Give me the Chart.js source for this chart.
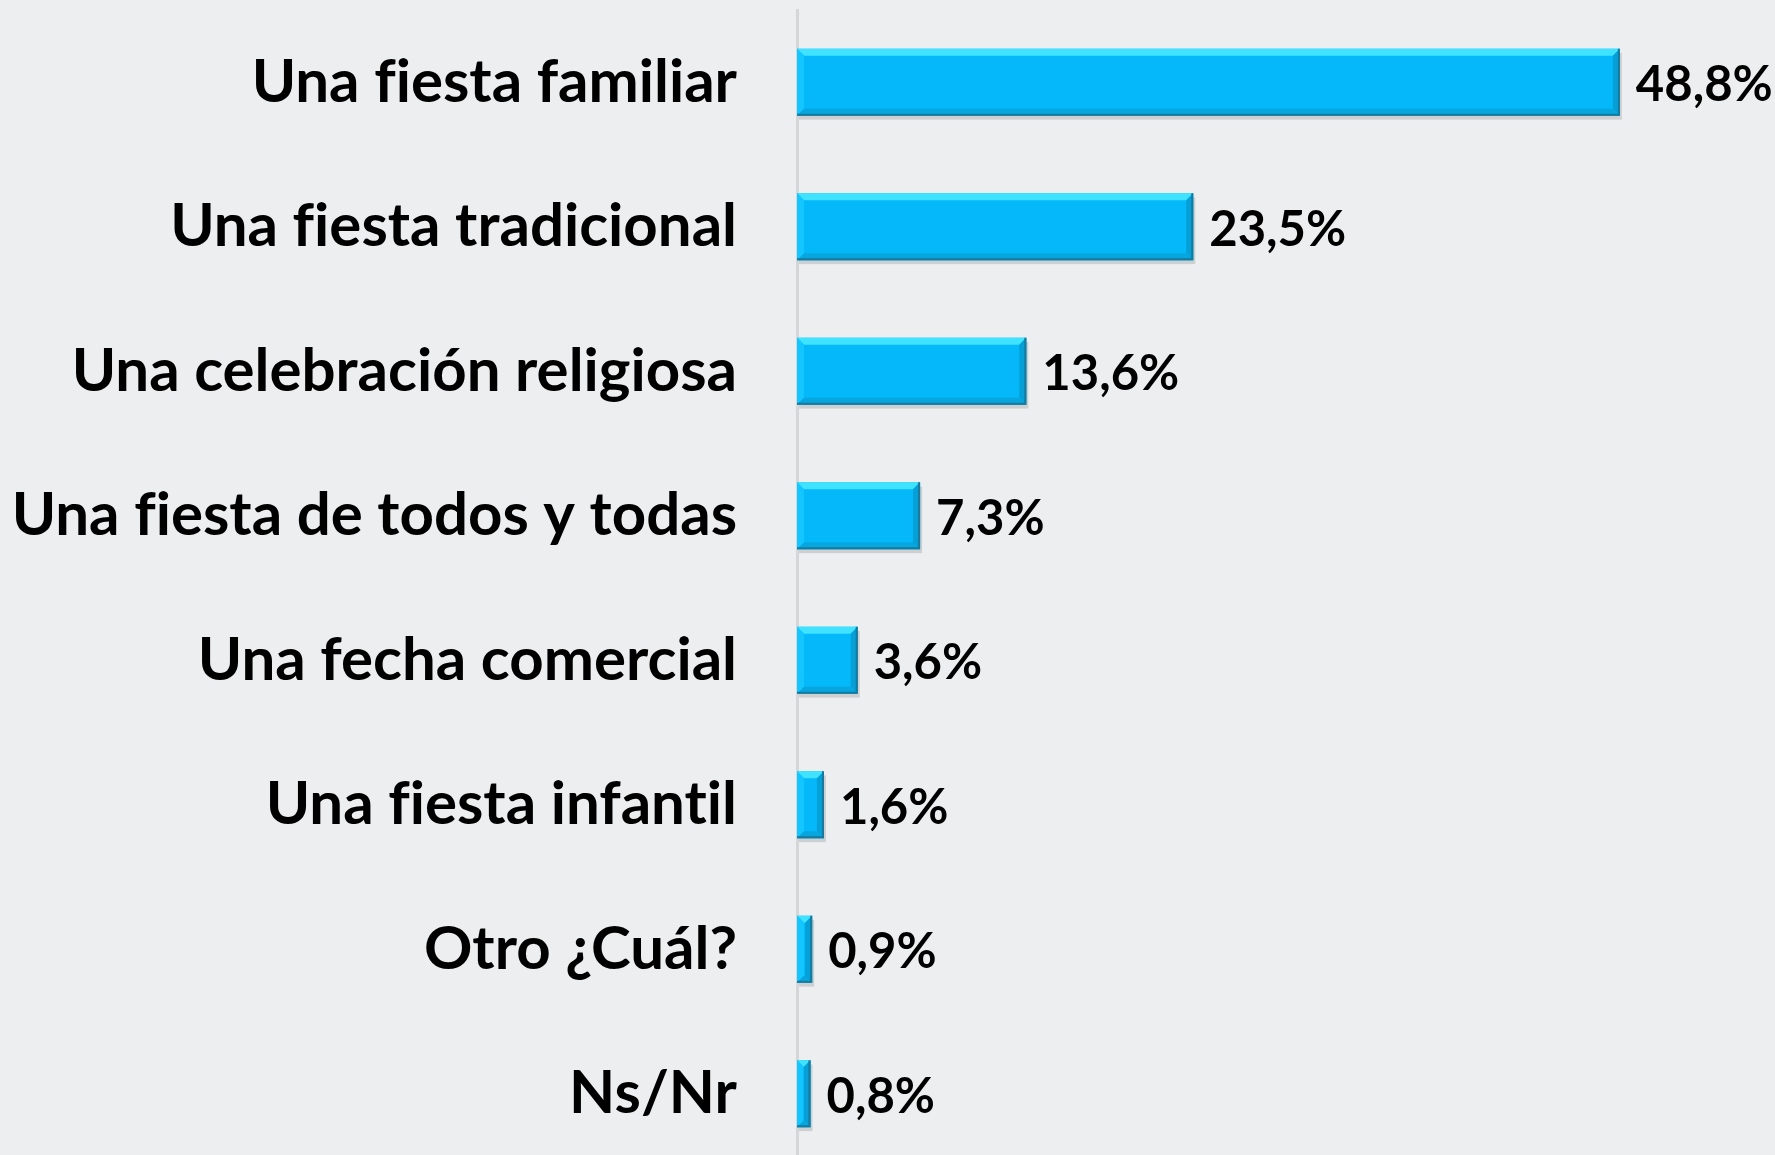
<!DOCTYPE html>
<html>
<head>
<meta charset="utf-8">
<script src="https://cdn.jsdelivr.net/npm/chart.js@4/dist/chart.umd.min.js"></script>
<style>
  html, body { margin: 0; padding: 0; background: #edeef0; overflow: hidden; }
  #wrap { width: 1775px; height: 1166px; position: relative; }
</style>
</head>
<body>
<div id="wrap"><canvas id="chart"></canvas></div>
<script>
const categories = [
  'Una fiesta familiar',
  'Una fiesta tradicional',
  'Una celebración religiosa',
  'Una fiesta de todos y todas',
  'Una fecha comercial',
  'Una fiesta infantil',
  'Otro ¿Cuál?',
  'Ns/Nr'
];
const values = [48.8, 23.5, 13.6, 7.3, 3.6, 1.6, 0.9, 0.8];

const labelFont = 'Lato, "Open Sans", sans-serif';

// no fi / ti ligatures, the original font does not join them
const noLigatures = {
  id: 'noLigatures',
  beforeDraw(chart) {
    chart.ctx.textRendering = 'optimizeSpeed';
  }
};

// draws a soft shadow + bevel on each bar, like the office-style 3D bars
const bevelBars = {
  id: 'bevelBars',
  beforeDatasetsDraw(chart) {
    const ctx = chart.ctx;
    const meta = chart.getDatasetMeta(0);
    ctx.save();
    meta.data.forEach((bar) => {
      const left = Math.min(bar.base, bar.x);
      const w = Math.abs(bar.x - bar.base);
      const top = bar.y - bar.height / 2;
      ctx.fillStyle = 'rgba(0,0,0,0.13)';
      ctx.fillRect(left + 2, top + 4, w, bar.height);
    });
    ctx.restore();
  },
  afterDatasetsDraw(chart) {
    const ctx = chart.ctx;
    const meta = chart.getDatasetMeta(0);
    ctx.save();
    meta.data.forEach((bar) => {
      const left = Math.min(bar.base, bar.x);
      const right = Math.max(bar.base, bar.x);
      const top = bar.y - bar.height / 2;
      const bottom = bar.y + bar.height / 2;
      const b = Math.min(7, (right - left) / 2);
      // top highlight
      ctx.fillStyle = '#3fe3ff';
      ctx.beginPath();
      ctx.moveTo(left, top); ctx.lineTo(right, top);
      ctx.lineTo(right - b, top + b); ctx.lineTo(left + b, top + b);
      ctx.closePath(); ctx.fill();
      // left face
      ctx.fillStyle = '#14c6ff';
      ctx.beginPath();
      ctx.moveTo(left, top); ctx.lineTo(left + b, top + b);
      ctx.lineTo(left + b, bottom - b); ctx.lineTo(left, bottom);
      ctx.closePath(); ctx.fill();
      // right face
      ctx.fillStyle = '#069fd6';
      ctx.beginPath();
      ctx.moveTo(right, top); ctx.lineTo(right - b, top + b);
      ctx.lineTo(right - b, bottom - b); ctx.lineTo(right, bottom);
      ctx.closePath(); ctx.fill();
      // bottom face
      ctx.fillStyle = '#07a6de';
      ctx.beginPath();
      ctx.moveTo(left, bottom); ctx.lineTo(left + b, bottom - b);
      ctx.lineTo(right - b, bottom - b); ctx.lineTo(right, bottom);
      ctx.closePath(); ctx.fill();
      // dark outline at bottom/right
      ctx.strokeStyle = '#17799c';
      ctx.lineWidth = 2;
      ctx.beginPath();
      ctx.moveTo(left, bottom - 1); ctx.lineTo(right - 1, bottom - 1); ctx.lineTo(right - 1, top);
      ctx.stroke();
    });
    ctx.restore();
  }
};

// value labels to the right of the bars
const valueLabels = {
  id: 'valueLabels',
  afterDatasetsDraw(chart) {
    const ctx = chart.ctx;
    const meta = chart.getDatasetMeta(0);
    ctx.save();
    ctx.font = 'bold 49px ' + labelFont;
    ctx.fillStyle = '#000';
    ctx.textAlign = 'left';
    ctx.textBaseline = 'middle';
    meta.data.forEach((bar, i) => {
      const txt = values[i].toFixed(1).replace('.', ',') + '%';
      ctx.fillText(txt, bar.x + 16, bar.y + 3);
    });
    ctx.restore();
  }
};

new Chart(document.getElementById('chart'), {
  type: 'bar',
  data: {
    labels: categories,
    datasets: [{
      data: values,
      backgroundColor: '#05b8f9',
      borderWidth: 0,
      barPercentage: 0.462,
      categoryPercentage: 1
    }]
  },
  options: {
    indexAxis: 'y',
    responsive: true,
    maintainAspectRatio: false,
    animation: false,
    layout: { padding: { top: 10, right: 0, bottom: 0, left: 0 } },
    plugins: {
      legend: { display: false },
      tooltip: { enabled: false }
    },
    scales: {
      x: {
        display: false,
        min: 0,
        max: 58
      },
      y: {
        grid: { display: true, drawOnChartArea: false, drawTicks: false },
        border: { display: true, color: '#d5d6d8', width: 3 },
        ticks: {
          color: '#000',
          padding: 60,
          font: { family: labelFont, weight: 'bold', size: 60 }
        },
        afterFit(scale) {
          scale.width = 797;
          scale.paddingTop = 0;
          scale.paddingBottom = 0;
        }
      }
    }
  },
  plugins: [noLigatures, bevelBars, valueLabels]
});
</script>
</body>
</html>
